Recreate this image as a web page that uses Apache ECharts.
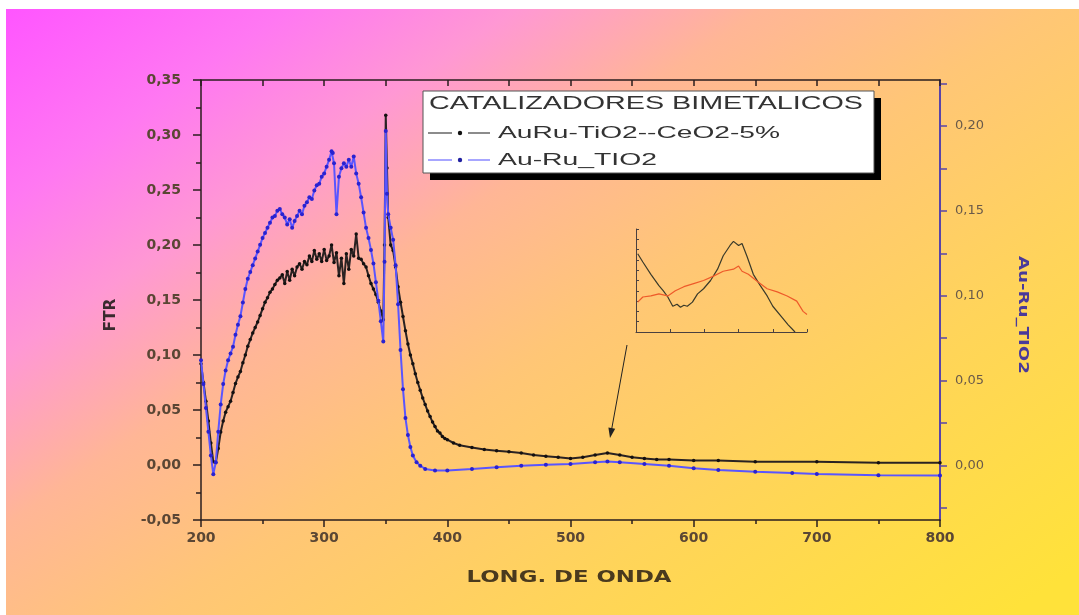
<!DOCTYPE html>
<html><head><meta charset="utf-8">
<script src="https://cdn.jsdelivr.net/npm/echarts@6/dist/echarts.min.js"></script>
<style>html,body{margin:0;padding:0;background:#fff;}#c{width:1079px;height:615px;}</style>
</head><body><div id="c"></div>
<script>
// ---------- DATA ----------
const seriesNames = ['AuRu-TiO2--CeO2-5%', 'Au-Ru_TIO2'];
const legendTitle = 'CATALIZADORES BIMETALICOS';
const xAxisTitle = 'LONG. DE ONDA';
const leftAxisTitle = 'FTR';
const rightAxisTitle = 'Au-Ru_TIO2';

// AuRu-TiO2--CeO2-5% (left axis, FTR)
const lambdaCe = [200,202,204,206,208,210,212,214,216,218,220,222,224,226,228,230,232,234,236,238,240,242,244,246,248,250,252,254,256,258,260,262,264,266,268,270,272,274,276,278,280,282,284,286,288,290,292,294,296,298,300,302,304,306,308,310,312,314,316,318,320,322,324,326,328,330,332,334,336,338,340,342,344,346,348,349,350,351,352,354,356,358,360,362,364,366,368,370,372,374,376,378,380,382,384,386,388,390,392,394,396,398,400,405,410,420,430,440,450,460,470,480,490,500,510,520,530,540,550,560,570,580,600,620,650,700,750,800];
const ftrCe = [0.092,0.075,0.058,0.040,0.020,0.003,0.002,0.015,0.030,0.040,0.048,0.053,0.058,0.066,0.074,0.080,0.085,0.093,0.100,0.108,0.114,0.120,0.125,0.130,0.136,0.142,0.148,0.152,0.157,0.160,0.164,0.168,0.170,0.173,0.165,0.176,0.168,0.178,0.172,0.180,0.183,0.178,0.185,0.182,0.190,0.185,0.195,0.187,0.192,0.185,0.196,0.186,0.190,0.200,0.184,0.193,0.172,0.188,0.165,0.192,0.178,0.196,0.190,0.210,0.188,0.187,0.183,0.180,0.172,0.165,0.160,0.155,0.148,0.140,0.132,0.200,0.318,0.270,0.225,0.200,0.195,0.180,0.162,0.148,0.135,0.122,0.110,0.100,0.092,0.083,0.075,0.068,0.061,0.055,0.049,0.044,0.039,0.035,0.031,0.029,0.026,0.024,0.023,0.020,0.018,0.016,0.014,0.013,0.012,0.011,0.009,0.008,0.007,0.006,0.007,0.009,0.011,0.009,0.007,0.006,0.005,0.005,0.004,0.004,0.003,0.003,0.002,0.002];

// Au-Ru_TIO2 (right axis)
const lambdaTi = [200,202,204,206,208,210,212,214,216,218,220,222,224,226,228,230,232,234,236,238,240,242,244,246,248,250,252,254,256,258,260,262,264,266,268,270,272,274,276,278,280,282,284,286,288,290,292,294,296,298,300,302,304,306,307,308,310,312,314,316,318,320,322,324,326,328,330,332,334,336,338,340,342,344,346,348,349,350,351,352,354,356,358,360,362,364,366,368,370,372,375,378,382,390,400,420,440,460,480,500,520,530,540,560,580,600,620,650,680,700,750,800];
const valTi = [0.062,0.048,0.034,0.020,0.006,-0.005,0.002,0.020,0.036,0.048,0.056,0.062,0.066,0.070,0.077,0.083,0.088,0.096,0.104,0.110,0.114,0.118,0.122,0.126,0.130,0.134,0.137,0.140,0.143,0.146,0.147,0.150,0.151,0.148,0.146,0.142,0.145,0.140,0.144,0.147,0.150,0.148,0.153,0.155,0.158,0.157,0.162,0.165,0.166,0.170,0.172,0.176,0.180,0.185,0.184,0.178,0.148,0.170,0.175,0.178,0.176,0.180,0.176,0.182,0.172,0.166,0.158,0.149,0.140,0.134,0.127,0.119,0.108,0.097,0.085,0.073,0.120,0.197,0.160,0.148,0.140,0.133,0.118,0.095,0.068,0.045,0.028,0.018,0.011,0.006,0.002,0.000,-0.002,-0.0028,-0.0028,-0.002,-0.001,0.000,0.0005,0.001,0.002,0.0025,0.002,0.001,0.000,-0.0015,-0.0025,-0.0036,-0.0044,-0.0049,-0.0056,-0.0058];

// Inset (zoom of the 530 nm band, arbitrary units)
const insetXCe = [1,4,8.7,13.4,16,18.6,21.5,24,26,28,30,33,36,39.5,43.6,47.7,51,55,57,60,62,65,68.6,72.7,76.7,80,85.5,89,93];
const insetCe  = [76,68,56,45,40,34,25,27,24,26,25,29,37,42,50,61,74,84,88,84,86,73,56,45,35,25,14,7,0];
const insetXTi = [1,4,8.7,13.4,18.6,23,28,33.7,39.5,45,51,57,60,62,65.7,71,76.7,82.6,88.4,94,97.7,100];
const insetTi  = [29,34,35,37,35,40,44,47,50,54,59,61,64,59,56,49,42,39,35,30,20,17];

// Axis ticks
const rightLabelValues = [0, 0.05, 0.10, 0.15, 0.20];
const rightTickValues = [-0.025, 0, 0.025, 0.05, 0.075, 0.10, 0.125, 0.15, 0.175, 0.20, 0.225];

// ---------- BUILD ----------
const zip = (xs, ys) => xs.map((x, i) => [x, ys[i]]);
const fmt = v => v.toFixed(2).replace('.', ',');

const measureCtx = document.createElement('canvas').getContext('2d');
function scaleFor(text, font, target) {
  measureCtx.font = font;
  return target / measureCtx.measureText(text).width;
}
function spacedText(text, x, y, size, family, weight, color, target, align, rotation) {
  const font = (weight || 'normal') + ' ' + size + 'px ' + family;
  return {
    type: 'text', x: x, y: y, z: 100, silent: true,
    rotation: rotation || 0,
    scaleX: scaleFor(text, font, target), scaleY: 1,
    style: { text: text, fontSize: size, fontFamily: family, fontWeight: weight || 'normal',
             fill: color, textAlign: align || 'left', textVerticalAlign: 'middle' }
  };
}

const chart = echarts.init(document.getElementById('c'), null, { renderer: 'canvas' });

const labelFont = { fontFamily: 'DejaVu Sans', fontSize: 14, fontWeight: 'bold', color: '#5a4634' };
const darkAxis = { show: true, onZero: false, lineStyle: { color: '#2a1e1e', width: 1.5 } };

const bgGradient = new echarts.graphic.LinearGradient(6, 9, 606, 889, [
  { offset: 0, color: '#ff55ff' },
  { offset: 0.15, color: '#ff78f2' },
  { offset: 0.27, color: '#ff98d4' },
  { offset: 0.40, color: '#ffb696' },
  { offset: 0.55, color: '#ffc676' },
  { offset: 0.75, color: '#ffd45a' },
  { offset: 1, color: '#ffe23a' }
], true);

const option = {
  animation: false,
  backgroundColor: '#ffffff',
  grid: [
    { left: 201, top: 80, width: 739, height: 440 },
    { left: 636, top: 229, width: 171, height: 103 }
  ],
  xAxis: [
    { type: 'value', gridIndex: 0, position: 'bottom', min: 200, max: 800, interval: 100,
      axisLine: darkAxis,
      axisTick: { show: true, length: 7, lineStyle: { color: '#2a1e1e', width: 1.5 } },
      minorTick: { show: true, splitNumber: 2, length: 4, lineStyle: { color: '#2a1e1e', width: 1.5 } },
      axisLabel: Object.assign({ margin: 11 }, labelFont),
      splitLine: { show: false } },
    { type: 'value', gridIndex: 0, position: 'top', min: 200, max: 800, interval: 50,
      axisLine: darkAxis,
      axisTick: { show: true, inside: true, length: 6, lineStyle: { color: '#2a1e1e', width: 1.5 } },
      axisLabel: { show: false }, splitLine: { show: false } },
    { type: 'value', gridIndex: 1, min: 0, max: 100, interval: 20,
      axisLine: { show: true, onZero: false, lineStyle: { color: '#4a4040', width: 1 } },
      axisTick: { show: true, inside: true, length: 3, lineStyle: { color: '#4a4040' } },
      axisLabel: { show: false }, splitLine: { show: false } }
  ],
  yAxis: [
    { type: 'value', gridIndex: 0, position: 'left', min: -0.05, max: 0.35, interval: 0.05,
      axisLine: darkAxis,
      axisTick: { show: true, length: 8, lineStyle: { color: '#2a1e1e', width: 1.5 } },
      minorTick: { show: true, splitNumber: 2, length: 5, lineStyle: { color: '#2a1e1e', width: 1.5 } },
      axisLabel: Object.assign({ margin: 20, formatter: fmt }, labelFont),
      splitLine: { show: false } },
    { type: 'value', gridIndex: 0, position: 'right', min: -0.032, max: 0.227,
      axisLine: { show: true, onZero: false, lineStyle: { color: '#5a44a8', width: 2 } },
      axisTick: { show: true, length: 7, customValues: rightTickValues, lineStyle: { color: '#5a44a8', width: 1.5 } },
      axisLabel: { margin: 15, customValues: rightLabelValues, formatter: fmt,
                   fontFamily: 'DejaVu Sans', fontSize: 13, color: '#6a5a4a' },
      splitLine: { show: false } },
    { type: 'value', gridIndex: 1, min: 0, max: 100, interval: 10,
      axisLine: { show: true, onZero: false, lineStyle: { color: '#4a4040', width: 1 } },
      axisTick: { show: true, inside: true, length: 3, lineStyle: { color: '#4a4040' } },
      axisLabel: { show: false }, splitLine: { show: false } }
  ],
  series: [
    { name: seriesNames[0], type: 'line', xAxisIndex: 0, yAxisIndex: 0,
      data: zip(lambdaCe, ftrCe), showSymbol: true, showAllSymbol: true,
      symbol: 'circle', symbolSize: 3.5,
      itemStyle: { color: '#141010' }, lineStyle: { color: '#2a2222', width: 2 }, z: 3 },
    { name: seriesNames[1], type: 'line', xAxisIndex: 0, yAxisIndex: 1,
      data: zip(lambdaTi, valTi), showSymbol: true, showAllSymbol: true,
      symbol: 'circle', symbolSize: 4,
      itemStyle: { color: '#2a22d0' }, lineStyle: { color: '#5a55ff', width: 2 }, z: 4 },
    { name: 'inset-ce', type: 'line', xAxisIndex: 2, yAxisIndex: 2,
      data: zip(insetXCe, insetCe), showSymbol: false,
      lineStyle: { color: '#3a3a2a', width: 1.2 }, z: 3 },
    { name: 'inset-ti', type: 'line', xAxisIndex: 2, yAxisIndex: 2,
      data: zip(insetXTi, insetTi), showSymbol: false,
      lineStyle: { color: '#ee5a2a', width: 1.2 }, z: 3 }
  ],
  graphic: [
    { type: 'rect', z: -100, silent: true, shape: { x: 6, y: 9, width: 1073, height: 606 },
      style: { fill: bgGradient } },
    // legend box
    { type: 'rect', z: 90, silent: true, shape: { x: 430, y: 98, width: 451, height: 82 }, style: { fill: '#000' } },
    { type: 'rect', z: 91, silent: true, shape: { x: 423, y: 91, width: 451, height: 82 },
      style: { fill: '#ffffff', stroke: '#555', lineWidth: 1 } },
    spacedText(legendTitle, 429, 104, 18, 'Liberation Sans', 'normal', '#333333', 434, 'left'),
    { type: 'line', z: 100, silent: true, shape: { x1: 428, y1: 133, x2: 452, y2: 133 }, style: { stroke: '#666', lineWidth: 1.5 } },
    { type: 'circle', z: 100, silent: true, shape: { cx: 460, cy: 133, r: 2.2 }, style: { fill: '#111' } },
    { type: 'line', z: 100, silent: true, shape: { x1: 468, y1: 133, x2: 490, y2: 133 }, style: { stroke: '#666', lineWidth: 1.5 } },
    spacedText(seriesNames[0], 498, 133, 17, 'Liberation Sans', 'normal', '#333333', 282, 'left'),
    { type: 'line', z: 100, silent: true, shape: { x1: 428, y1: 160, x2: 452, y2: 160 }, style: { stroke: '#8a88ff', lineWidth: 1.5 } },
    { type: 'circle', z: 100, silent: true, shape: { cx: 460, cy: 160, r: 2.2 }, style: { fill: '#2020a0' } },
    { type: 'line', z: 100, silent: true, shape: { x1: 468, y1: 160, x2: 490, y2: 160 }, style: { stroke: '#8a88ff', lineWidth: 1.5 } },
    spacedText(seriesNames[1], 498, 160, 17, 'Liberation Sans', 'normal', '#333333', 159, 'left'),
    // arrow
    { type: 'line', z: 100, silent: true, shape: { x1: 627, y1: 345, x2: 611.5, y2: 430 }, style: { stroke: '#222', lineWidth: 1 } },
    { type: 'polygon', z: 100, silent: true, shape: { points: [[610, 438], [615.2, 428.8], [608.4, 427.6]] }, style: { fill: '#222' } },
    // axis titles
    spacedText(xAxisTitle, 569, 578, 16, 'DejaVu Sans', 'bold', '#4a3a1e', 205, 'center'),
    spacedText(leftAxisTitle, 111, 315, 15, 'DejaVu Sans', 'bold', '#3a2a2e', 33, 'center', Math.PI / 2),
    spacedText(rightAxisTitle, 1023, 315, 14, 'DejaVu Sans', 'bold', '#4a3a9a', 118, 'center', -Math.PI / 2)
  ]
};
chart.setOption(option);
</script>
</body></html>
